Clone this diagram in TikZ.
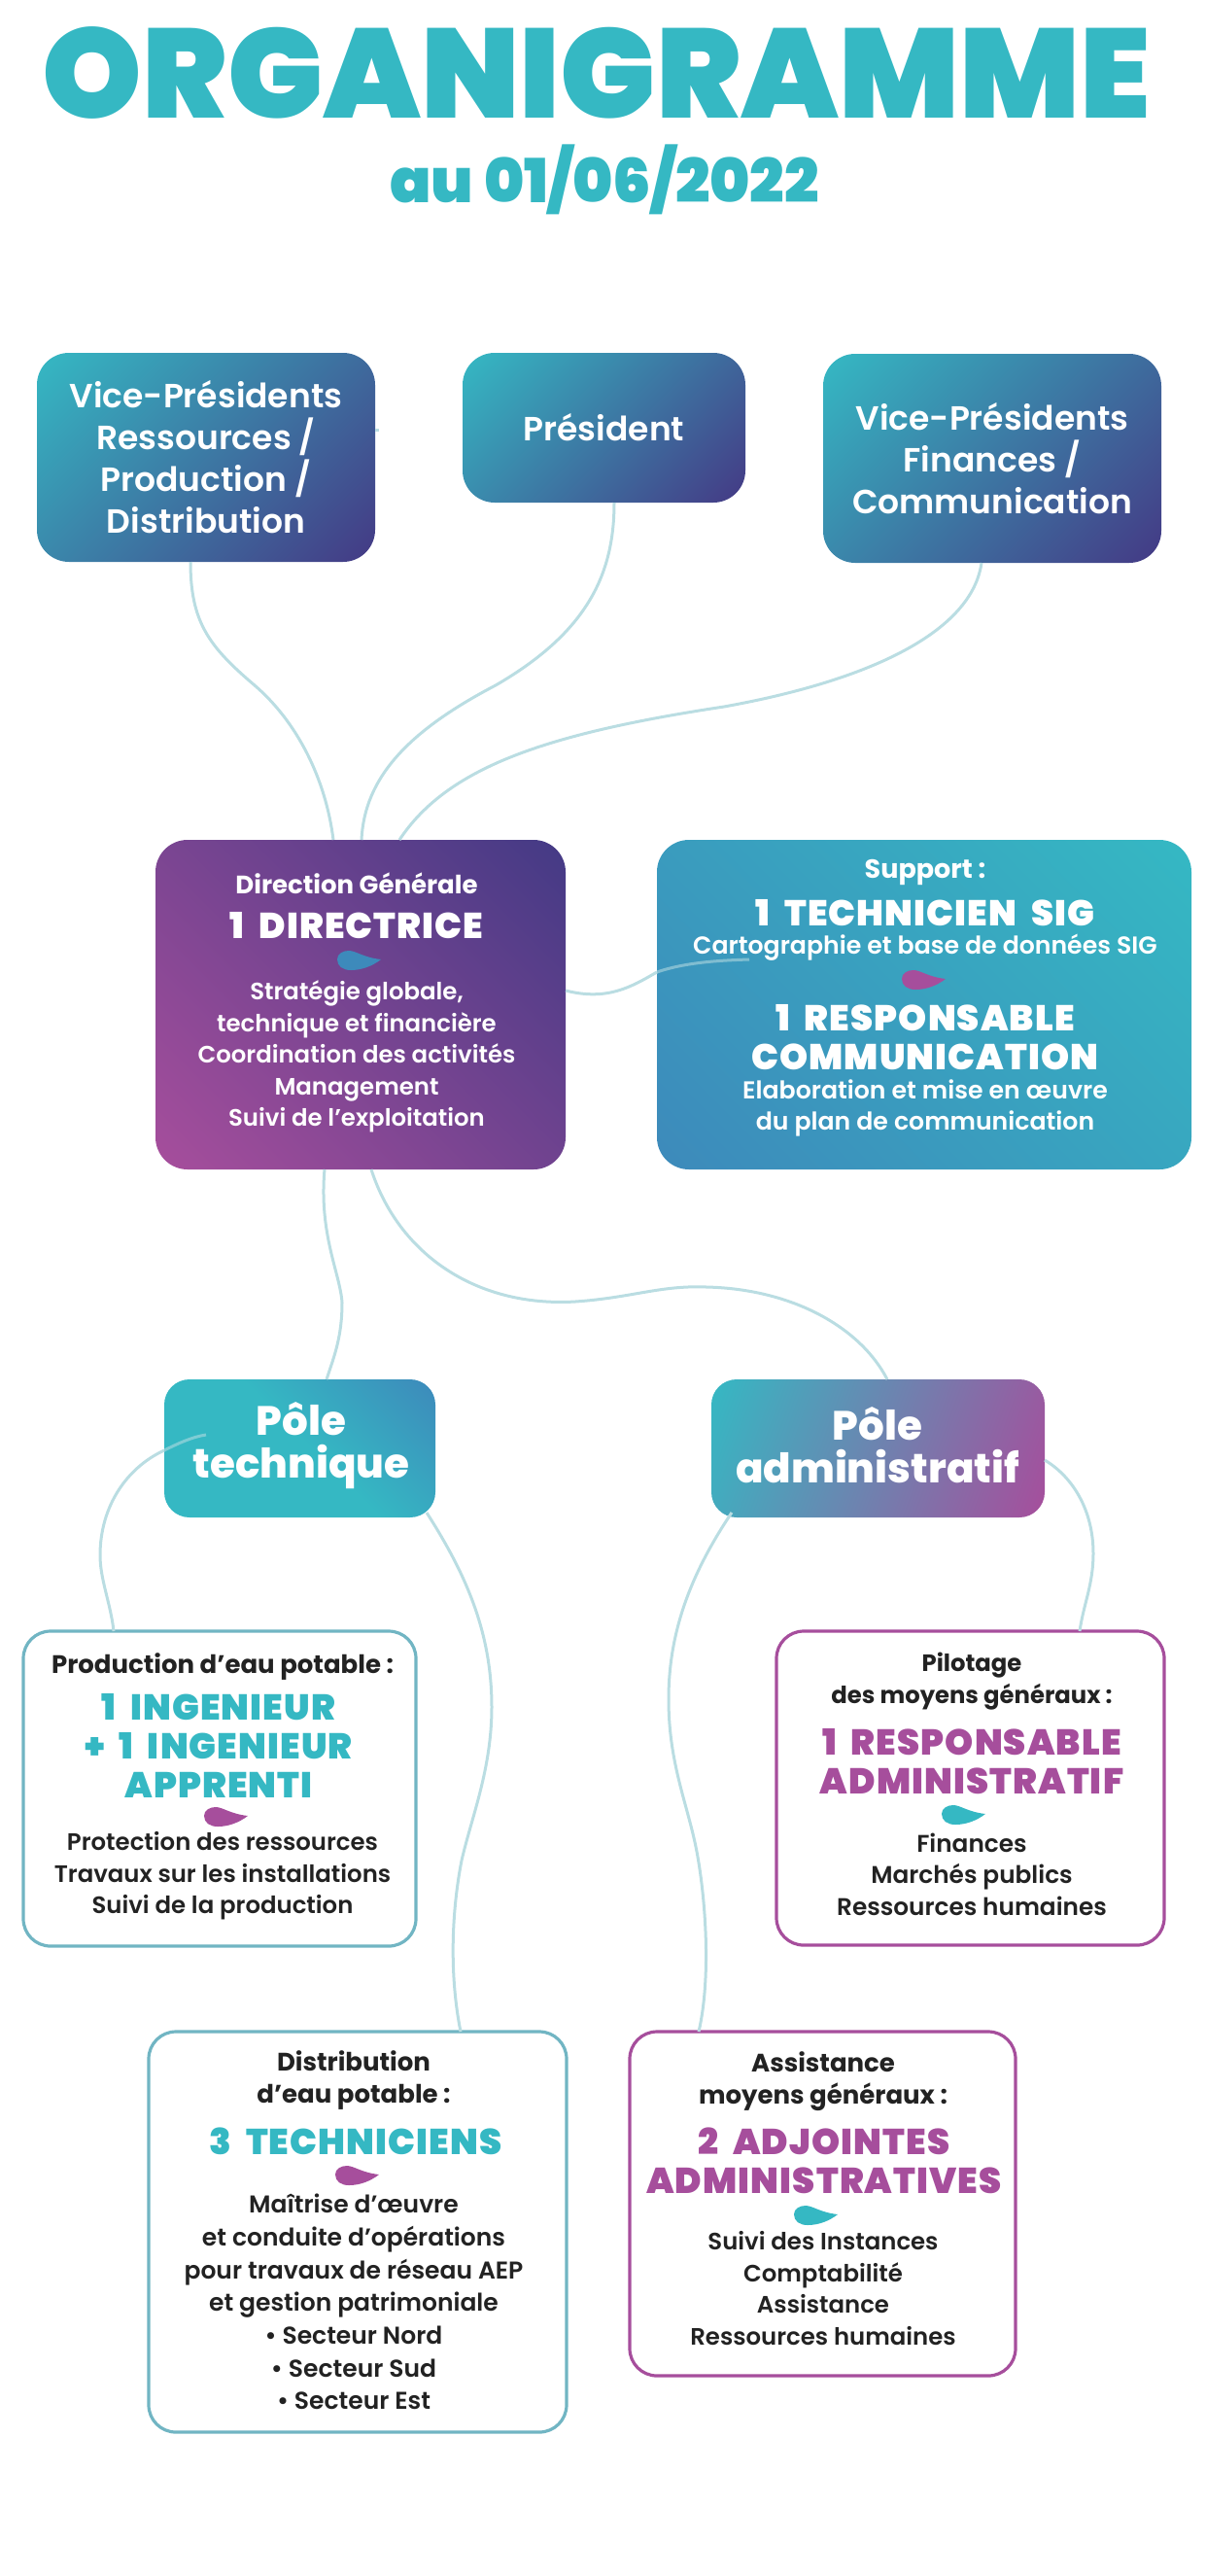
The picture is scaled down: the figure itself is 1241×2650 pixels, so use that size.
\documentclass[tikz,border=0pt]{standalone}
\usepackage{fontspec}
\usepackage{xcolor}
\usepackage{tikz}
\usetikzlibrary{arrows.meta,positioning,calc}
\newfontfamily\semif{Poppins SemiBold}
\newfontfamily\boldf{Poppins Bold}
\newfontfamily\xboldf{Poppins ExtraBold}
\newfontfamily\blackf{Poppins Black}
\newfontfamily\bigf{Poppins Black}[LetterSpace=3,WordSpace=2]
\definecolor{teal1}{HTML}{35B8C3}
\definecolor{navy1}{HTML}{443A85}
\definecolor{mag1}{HTML}{A64E9C}
\definecolor{blue1}{HTML}{3D8ABB}
\definecolor{lien}{HTML}{BADDE2}
\definecolor{bordt}{HTML}{71B5C3}
\definecolor{encre}{HTML}{222222}
\pgfdeclareverticalshading{gvp}{100bp}{color(0bp)=(navy1);color(15bp)=(navy1);color(85bp)=(teal1);color(100bp)=(teal1)}
\pgfdeclareverticalshading{gdg}{100bp}{color(0bp)=(mag1);color(15bp)=(mag1);color(85bp)=(navy1);color(100bp)=(navy1)}
\pgfdeclareverticalshading{gsup}{100bp}{color(0bp)=(blue1);color(15bp)=(blue1);color(85bp)=(teal1);color(100bp)=(teal1)}
\pgfdeclareverticalshading{gpt}{100bp}{color(0bp)=(teal1);color(52bp)=(teal1);color(85bp)=(blue1);color(100bp)=(blue1)}
\pgfdeclareverticalshading{gpa}{100bp}{color(0bp)=(mag1);color(18bp)=(mag1);color(82bp)=(teal1);color(100bp)=(teal1)}
\tikzset{
  gbox/.style   ={shade,rounded corners=33pt,inner sep=0pt,outer sep=0pt,align=center,text=white},
  vpbox/.style  ={gbox,shading=gvp,shading angle=45,
                  font=\semif\fontsize{34.5}{43}\selectfont},
  dgbox/.style  ={gbox,shading=gdg,shading angle=-45},
  supbox/.style ={gbox,shading=gsup,shading angle=-45},
  ptbox/.style  ={gbox,rounded corners=26pt,shading=gpt,shading angle=-45},
  pabox/.style  ={gbox,rounded corners=26pt,shading=gpa,shading angle=70},
  wbox/.style   ={rounded corners=28pt,inner sep=0pt,outer sep=0pt,fill=white,line width=3.2pt},
  tbox/.style   ={wbox,draw=bordt},
  mbox/.style   ={wbox,draw=mag1},
  pole/.style   ={align=center,inner sep=0pt,text=white,font=\xboldf\fontsize{42}{44}\selectfont},
  head/.style   ={align=center,inner sep=0pt,font=\boldf\fontsize{#1}{33}\selectfont},
  head/.default =26,
  big/.style    ={align=center,inner sep=0pt,font=\bigf\fontsize{37}{40}\selectfont},
  body/.style   ={align=center,inner sep=0pt,font=\semif\fontsize{#1}{32.5}\selectfont},
  body/.default =24.4,
  bodyd/.style  ={align=center,inner sep=0pt,font=\semif\fontsize{25}{33.7}\selectfont},
  conn/.style   ={draw=lien,line width=3pt},
  goutte/.pic   ={\fill[pic actions] (-22,-1) .. controls (-22,-7) and (-16,-10) .. (-10,-10)
                  .. controls (-3,-10) and (5,-3) .. (23,-1) .. controls (14,6) and (3,10) .. (-8,10)
                  .. controls (-16,10) and (-22,6) .. (-22,-1) -- cycle;},
}
\begin{document}
\begin{tikzpicture}[x=1pt,y=-1pt]
\useasboundingbox (0,0) rectangle (1241,2650);

% --- titre ---------------------------------------------------------------
\node[inner sep=0pt,text=teal1,font=\blackf\fontsize{130.5}{132}\selectfont] (titre) at (614,75) {ORGANIGRAMME};
\node[inner sep=0pt,text=teal1,font=\blackf\fontsize{62.5}{64}\selectfont] (date) at (622,185) {au 01/06/2022};

% --- elus ----------------------------------------------------------------
\node[vpbox,minimum width=348pt,minimum height=215pt] (vpr) at (212,470.5)
  {Vice-Présidents\\Ressources /\\Production /\\Distribution};
\node[vpbox,minimum width=291pt,minimum height=154pt] (pres) at (621.5,440) {Président};
\node[vpbox,minimum width=348pt,minimum height=215pt] (vpf) at (1021,471.5)
  {Vice-Présidents\\Finances /\\Communication};

% --- direction et support ------------------------------------------------
\node[dgbox,minimum width=422pt,minimum height=339pt] (dg) at (371,1033.5) {};
\node[head,text=white] (dgh) at (367,909) {Direction Générale};
\node[big,text=white] (dgb) at (367,952) {1 DIRECTRICE};
\pic[fill=blue1] at (369,988) {goutte};
\node[body,text=white] (dgt) at (367,1087)
  {Stratégie globale,\\technique et financière\\Coordination des activités\\Management\\Suivi de l’exploitation};

\node[supbox,minimum width=550pt,minimum height=339pt] (sup) at (951,1033.5) {};
\node[head=27,text=white] (suph) at (952,897) {Support :};
\node[big,text=white] (supb) at (952,939) {1 TECHNICIEN SIG};
\node[body=25.2,text=white] (supt) at (952,975) {Cartographie et base de données SIG};
\pic[fill=mag1] at (950,1008) {goutte};
\node[big,text=white] (supc) at (952,1067) {1 RESPONSABLE\\COMMUNICATION};
\node[body=25.2,text=white] (supd) at (952,1140) {Elaboration et mise en œuvre\\du plan de communication};

% --- poles ---------------------------------------------------------------
\node[ptbox,minimum width=279pt,minimum height=142pt] (ptec) at (308.5,1490) {};
\node[pole] (ptect) at (310,1487) {Pôle\\technique};
\node[pabox,minimum width=343pt,minimum height=142pt] (padm) at (903.5,1490) {};
\node[pole] (padmt) at (903,1487) {Pôle\\administratif};

% --- production ----------------------------------------------------------
\node[tbox,minimum width=404pt,minimum height=324pt] (prod) at (226,1840) {};
\node[head,text=encre] (prodh) at (229,1715) {Production d’eau potable :};
\node[big,text=teal1] (prodb) at (225,1796) {1 INGENIEUR\\+ 1 INGENIEUR\\APPRENTI};
\pic[fill=mag1] at (232,1869) {goutte};
\node[body,text=encre] (prodt) at (229,1930)
  {Protection des ressources\\Travaux sur les installations\\Suivi de la production};

% --- pilotage ------------------------------------------------------------
\node[mbox,minimum width=399pt,minimum height=323pt] (pil) at (998.5,1839.5) {};
\node[head=24.3,text=encre] (pilh) at (1000,1730) {Pilotage\\des moyens généraux :};
\node[big,text=mag1] (pilb) at (1000,1812) {1 RESPONSABLE\\ADMINISTRATIF};
\pic[fill=teal1] at (991,1867) {goutte};
\node[body=24.8,text=encre] (pilt) at (1000,1928) {Finances\\Marchés publics\\Ressources humaines};

% --- distribution --------------------------------------------------------
\node[tbox,minimum width=430pt,minimum height=412pt] (dist) at (368,2296) {};
\node[head,text=encre] (disth) at (364,2140) {Distribution\\d’eau potable :};
\node[big,text=teal1] (distb) at (366,2203) {3 TECHNICIENS};
\pic[fill=mag1] at (367,2238) {goutte};
\node[bodyd,text=encre] (distt) at (364,2368)
  {Maîtrise d’œuvre\\et conduite d’opérations\\pour travaux de réseau AEP\\et gestion patrimoniale\\• Secteur Nord\\• Secteur Sud\\• Secteur Est};

% --- assistance ----------------------------------------------------------
\node[mbox,minimum width=397pt,minimum height=354pt] (asst) at (846.5,2267) {};
\node[head,text=encre] (assth) at (847,2141) {Assistance\\moyens généraux :};
\node[big,text=mag1] (asstb) at (848,2223) {2 ADJOINTES\\ADMINISTRATIVES};
\pic[fill=teal1] at (839,2279) {goutte};
\node[body,text=encre] (asstt) at (847,2354) {Suivi des Instances\\Comptabilité\\Assistance\\Ressources humaines};

% --- liens ---------------------------------------------------------------
\coordinate (vpstub) at (390,442);
\coordinate (supin) at (771,987);
\coordinate (ptecin) at (212,1476);
\draw[conn] ([yshift=28.5pt]vpr.east) -- (vpstub);
\draw[conn] ([xshift=-16pt]vpr.south) .. controls (196,640) and (215,665) .. (262,705)
  .. controls (305,742) and (335,800) .. ([xshift=-28pt]dg.north);
\draw[conn] ([xshift=10.5pt]pres.south) .. controls (632,590) and (605,650) .. (510,705)
  .. controls (420,752) and (375,800) .. ([xshift=1pt]dg.north);
\draw[conn] ([xshift=-11pt]vpf.south) .. controls (1000,650) and (895,700) .. (745,727)
  .. controls (560,755) and (460,790) .. ([xshift=40pt]dg.north);
\draw[conn] ([yshift=14.5pt]dg.east) .. controls (625,1030) and (650,1015) .. ([yshift=33.5pt]sup.west);
\draw[conn,opacity=.55] ([yshift=33.5pt]sup.west) .. controls (705,990) and (740,988) .. (supin);
\draw[conn] ([xshift=-37pt]dg.south) .. controls (328,1270) and (350,1310) .. (352,1340)
  .. controls (352,1375) and (344,1395) .. ([xshift=27.5pt]ptec.north);
\draw[conn] ([xshift=11pt]dg.south) .. controls (410,1290) and (490,1345) .. (592,1339)
  .. controls (650,1335) and (680,1322) .. (727,1324)
  .. controls (815,1326) and (885,1365) .. ([xshift=9.5pt]padm.north);
\draw[conn,opacity=.55] (ptecin) .. controls (198,1478) and (183,1485) .. ([yshift=-2pt]ptec.west);
\draw[conn] ([yshift=-2pt]ptec.west) .. controls (130,1510) and (103,1550) .. (103,1600)
  .. controls (103,1625) and (114,1650) .. ([xshift=-109pt]prod.north);
\draw[conn] ([shift={(-9pt,5pt)}]ptec.south east) .. controls (480,1620) and (506,1680) .. (506,1756)
  .. controls (506,1820) and (485,1870) .. (475,1914)
  .. controls (465,1965) and (462,2030) .. ([xshift=106pt]dist.north);
\draw[conn] ([shift={(21pt,5pt)}]padm.south west) .. controls (710,1620) and (688,1680) .. (688,1748)
  .. controls (688,1810) and (705,1850) .. (715,1895)
  .. controls (725,1940) and (733,2030) .. ([xshift=-127.5pt]asst.north);
\draw[conn] ([yshift=-12pt]padm.east) .. controls (1105,1520) and (1125,1555) .. (1125,1598)
  .. controls (1125,1630) and (1115,1650) .. ([xshift=112.5pt]pil.north);

\end{tikzpicture}
\end{document}
